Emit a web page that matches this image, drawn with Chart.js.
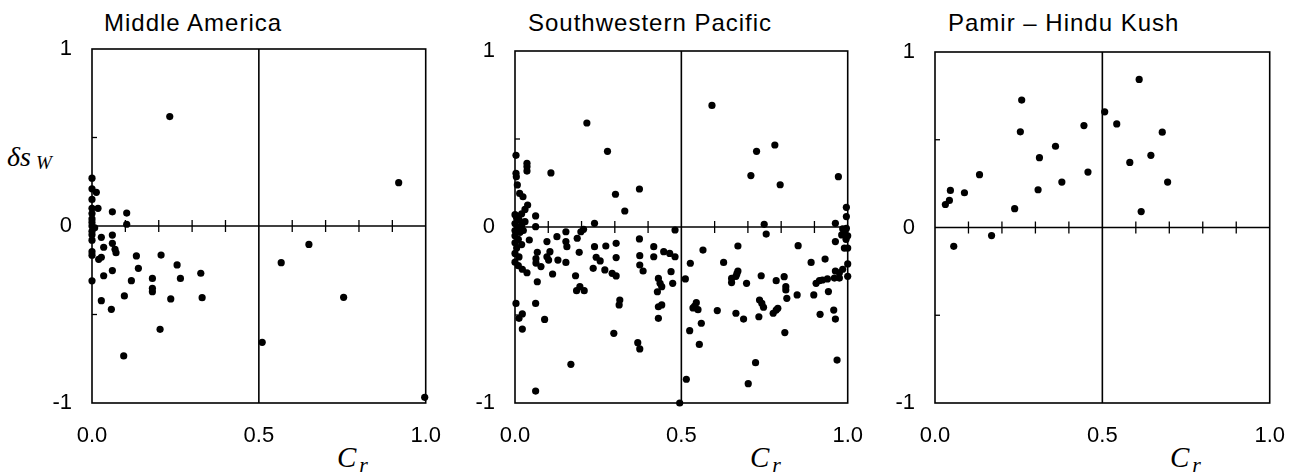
<!DOCTYPE html>
<html>
<head>
<meta charset="utf-8">
<script src="https://cdn.jsdelivr.net/npm/chart.js@4.4.1/dist/chart.umd.min.js"></script>
<style>
  html, body { margin: 0; padding: 0; background: #fff; }
  body { width: 1314px; height: 476px; position: relative; overflow: hidden; }
  canvas { position: absolute; top: 0; }
  .title {
    position: absolute; top: 11px; color: #000; white-space: nowrap;
    font: 24px 'Liberation Sans', Arial, sans-serif; line-height: 24px; letter-spacing: 1px;
  }
  .sym {
    position: absolute; color: #000; white-space: nowrap; line-height: 1;
    font-family: 'Liberation Serif', 'Times New Roman', serif; font-style: italic;
  }
  .sym span { position: relative; }
</style>
</head>
<body>

<div class="title" style="left:104px">Middle America</div>
<div class="title" style="left:528px">Southwestern Pacific</div>
<div class="title" style="left:948px">Pamir – Hindu Kush</div>

<div class="sym" style="left:7px; top:143px; font-size:28px">δs<span style="font-size:19px; margin-left:5px; top:3px">W</span></div>
<div class="sym" style="left:337px; top:443px; font-size:29px">C<span style="font-size:22px; margin-left:3px; top:5px">r</span></div>
<div class="sym" style="left:750px; top:443px; font-size:29px">C<span style="font-size:22px; margin-left:3px; top:5px">r</span></div>
<div class="sym" style="left:1170px; top:443px; font-size:29px">C<span style="font-size:22px; margin-left:3px; top:5px">r</span></div>

<canvas id="middleAmerica" width="439" height="476" style="left:22px"></canvas>
<canvas id="swPacific" width="438" height="476" style="left:445px"></canvas>
<canvas id="pamir" width="440" height="476" style="left:865px"></canvas>

<script>
// [C_r, δs_W] pairs for each region
const middleAmerica = [
  [0.000, 0.270], [0.000, 0.210], [0.013, 0.190], [0.000, 0.150], [0.018, 0.100], [0.000, 0.100],
  [0.000, 0.070], [0.000, 0.040], [0.000, 0.020], [0.000, 0.000], [0.008, -0.010], [0.000, -0.030],
  [0.000, -0.050], [0.000, -0.080], [0.000, -0.145], [0.000, -0.165], [0.000, -0.310],
  [0.061, 0.080], [0.104, 0.073], [0.104, 0.010], [0.028, -0.064], [0.061, -0.051], [0.035, -0.120],
  [0.061, -0.098], [0.069, -0.132], [0.072, -0.151], [0.020, -0.188], [0.028, -0.177], [0.133, -0.169],
  [0.207, -0.164], [0.255, -0.220], [0.139, -0.239], [0.061, -0.252], [0.035, -0.281], [0.118, -0.309],
  [0.181, -0.296], [0.265, -0.296], [0.326, -0.267], [0.181, -0.352], [0.181, -0.371], [0.097, -0.395],
  [0.236, -0.412], [0.330, -0.405], [0.028, -0.422], [0.058, -0.471], [0.204, -0.584], [0.095, -0.734],
  [0.233, 0.618], [0.919, 0.245],
  [0.650, -0.104], [0.567, -0.207], [0.754, -0.403], [0.510, -0.657], [0.997, -0.968]
];

const swPacific = [
  [0.216, 0.591], [0.278, 0.430], [0.003, 0.407], [0.036, 0.362], [0.036, 0.343], [0.036, 0.318],
  [0.003, 0.305], [0.004, 0.285], [0.108, 0.307], [0.007, 0.239], [0.014, 0.191], [0.024, 0.172],
  [0.374, 0.216], [0.302, 0.186], [0.330, 0.091], [0.038, 0.125], [0.030, 0.100], [0.020, 0.075],
  [0.010, 0.060], [0.062, 0.063], [0.062, 0.002], [0.239, 0.021],
  [0.592, 0.691], [0.781, 0.466], [0.726, 0.430], [0.709, 0.292], [0.797, 0.240], [0.972, 0.286],
  [0.996, 0.112], [0.996, 0.059], [0.963, 0.021], [0.749, 0.015], [0.755, -0.040], [0.481, -0.017],
  [0.996, -0.008], [0.982, -0.045], [1.000, -0.050],
  [0.000, 0.070], [0.005, 0.050], [0.012, 0.040], [0.000, 0.020], [0.008, 0.000], [0.020, 0.010],
  [0.030, 0.030], [0.000, -0.020], [0.015, -0.030], [0.025, -0.020], [0.000, -0.050], [0.010, -0.070],
  [0.000, -0.090], [0.020, -0.100], [0.005, -0.120], [0.000, -0.150], [0.012, -0.170], [0.000, -0.200],
  [0.010, -0.220], [0.022, -0.240],
  [0.126, -0.055], [0.096, -0.083], [0.153, -0.027], [0.153, -0.083], [0.156, -0.112], [0.187, -0.064],
  [0.198, -0.027], [0.206, -0.013], [0.043, -0.074], [0.067, -0.144], [0.063, -0.180], [0.063, -0.205],
  [0.078, -0.225], [0.096, -0.169], [0.105, -0.140], [0.101, -0.188], [0.129, -0.188], [0.153, -0.201],
  [0.193, -0.144], [0.113, -0.267], [0.036, -0.260], [0.067, -0.311], [0.239, -0.112], [0.273, -0.108],
  [0.304, -0.093], [0.244, -0.172], [0.256, -0.193], [0.304, -0.174], [0.235, -0.235], [0.270, -0.244],
  [0.292, -0.263], [0.304, -0.278], [0.182, -0.277], [0.185, -0.362], [0.195, -0.339], [0.208, -0.362],
  [0.315, -0.415], [0.313, -0.443], [0.374, -0.068], [0.375, -0.163], [0.375, -0.216], [0.385, -0.250],
  [0.417, -0.112], [0.417, -0.169], [0.447, -0.140], [0.465, -0.150], [0.481, -0.169], [0.469, -0.254],
  [0.474, -0.320], [0.431, -0.292], [0.436, -0.320], [0.428, -0.368], [0.441, -0.339], [0.431, -0.453],
  [0.441, -0.443], [0.431, -0.519], [0.003, -0.434], [0.022, -0.494], [0.012, -0.519], [0.022, -0.580],
  [0.062, -0.434], [0.089, -0.525], [0.297, -0.604], [0.369, -0.657], [0.375, -0.693], [0.168, -0.780],
  [0.062, -0.932],
  [0.512, -0.295], [0.527, -0.206], [0.565, -0.131], [0.545, -0.430], [0.540, -0.450], [0.535, -0.460],
  [0.550, -0.470], [0.560, -0.547], [0.525, -0.589], [0.554, -0.667], [0.515, -0.865], [0.495, -1.000],
  [0.608, -0.475], [0.627, -0.201], [0.670, -0.108], [0.651, -0.292], [0.651, -0.316], [0.664, -0.490],
  [0.670, -0.250], [0.667, -0.265], [0.664, -0.280], [0.696, -0.320], [0.687, -0.523], [0.723, -0.771],
  [0.701, -0.890], [0.740, -0.277], [0.735, -0.415], [0.742, -0.434], [0.747, -0.456], [0.733, -0.510],
  [0.785, -0.305], [0.776, -0.490], [0.785, -0.472], [0.790, -0.462], [0.809, -0.282], [0.814, -0.339],
  [0.814, -0.358], [0.817, -0.405], [0.811, -0.600], [0.848, -0.386], [0.851, -0.106], [0.890, -0.201],
  [0.898, -0.386], [0.905, -0.320], [0.915, -0.305], [0.924, -0.301], [0.939, -0.295], [0.932, -0.182],
  [0.942, -0.367], [0.917, -0.496], [0.958, -0.472], [0.963, -0.523], [0.968, -0.756], [0.963, -0.083],
  [0.960, -0.290], [0.975, -0.290], [0.963, -0.250], [0.975, -0.260], [0.985, -0.240], [0.990, -0.030],
  [0.995, -0.070], [0.985, -0.010], [0.990, -0.120], [1.000, -0.120], [1.000, -0.210], [1.000, -0.280]
];

const pamirHinduKush = [
  [0.259, 0.726], [0.255, 0.545], [0.445, 0.581], [0.360, 0.463], [0.312, 0.398], [0.457, 0.316],
  [0.379, 0.259], [0.308, 0.215], [0.133, 0.301], [0.046, 0.211], [0.088, 0.198], [0.043, 0.154],
  [0.031, 0.131], [0.238, 0.107], [0.169, -0.046], [0.610, 0.844], [0.507, 0.659], [0.543, 0.590],
  [0.679, 0.543], [0.645, 0.411], [0.582, 0.371], [0.695, 0.259], [0.616, 0.091], [0.056, -0.107]
];

// minor tick marks across the zero line and on the left axis
const zeroLineTicks = [0.1, 0.2, 0.3, 0.4, 0.6, 0.7, 0.8, 0.9];
const leftAxisTicks = [0.5, -0.5];

const tickFont = { family: "'Liberation Sans', Arial, sans-serif", size: 22 };

// box, zero line, x = 0.5 divider and small ticks
const framePlugin = {
  id: 'frame',
  beforeDatasetsDraw(chart) {
    const { ctx, chartArea: a, scales: { x, y } } = chart;
    const line = (x1, y1, x2, y2) => {
      ctx.beginPath();
      ctx.moveTo(x1, y1);
      ctx.lineTo(x2, y2);
      ctx.stroke();
    };
    ctx.save();
    ctx.strokeStyle = '#000';
    ctx.lineWidth = 1.6;
    ctx.strokeRect(a.left, a.top, a.right - a.left, a.bottom - a.top);
    const y0 = y.getPixelForValue(0);
    const xMid = x.getPixelForValue(0.5);
    line(a.left, y0, a.right, y0);
    line(xMid, a.top, xMid, a.bottom);
    ctx.lineWidth = 1.3;
    zeroLineTicks.forEach(v => {
      const px = x.getPixelForValue(v);
      line(px, y0 - 6, px, y0 + 6);
    });
    leftAxisTicks.forEach(v => {
      const py = y.getPixelForValue(v);
      line(a.left, py, a.left + 5, py);
    });
    ctx.restore();
  }
};

function drawPanel(id, points, plotTop) {
  new Chart(document.getElementById(id), {
    type: 'scatter',
    data: {
      datasets: [{
        data: points.map(([x, y]) => ({ x, y })),
        pointRadius: 3.6,
        pointHoverRadius: 3.6,
        backgroundColor: '#000',
        borderWidth: 0,
        clip: false
      }]
    },
    options: {
      responsive: false,
      animation: false,
      events: [],
      layout: { padding: { left: 0, right: 20, top: plotTop, bottom: 33 } },
      plugins: { legend: { display: false }, tooltip: { enabled: false } },
      scales: {
        x: {
          type: 'linear', min: 0, max: 1,
          grid: { display: false, drawTicks: false },
          border: { display: false },
          ticks: {
            stepSize: 0.5, padding: 20, color: '#000', font: tickFont, maxRotation: 0,
            callback: v => v.toFixed(1)
          },
          afterFit: s => { s.height = 40; }
        },
        y: {
          type: 'linear', min: -1, max: 1,
          grid: { display: false, drawTicks: false },
          border: { display: false },
          ticks: {
            stepSize: 1, padding: 20, color: '#000', font: tickFont,
            callback: v => String(v)
          },
          afterFit: s => { s.width = 70; }
        }
      }
    },
    plugins: [framePlugin]
  });
}

drawPanel('middleAmerica', middleAmerica, 49);
drawPanel('swPacific', swPacific, 51);
drawPanel('pamir', pamirHinduKush, 52);
</script>
</body>
</html>
